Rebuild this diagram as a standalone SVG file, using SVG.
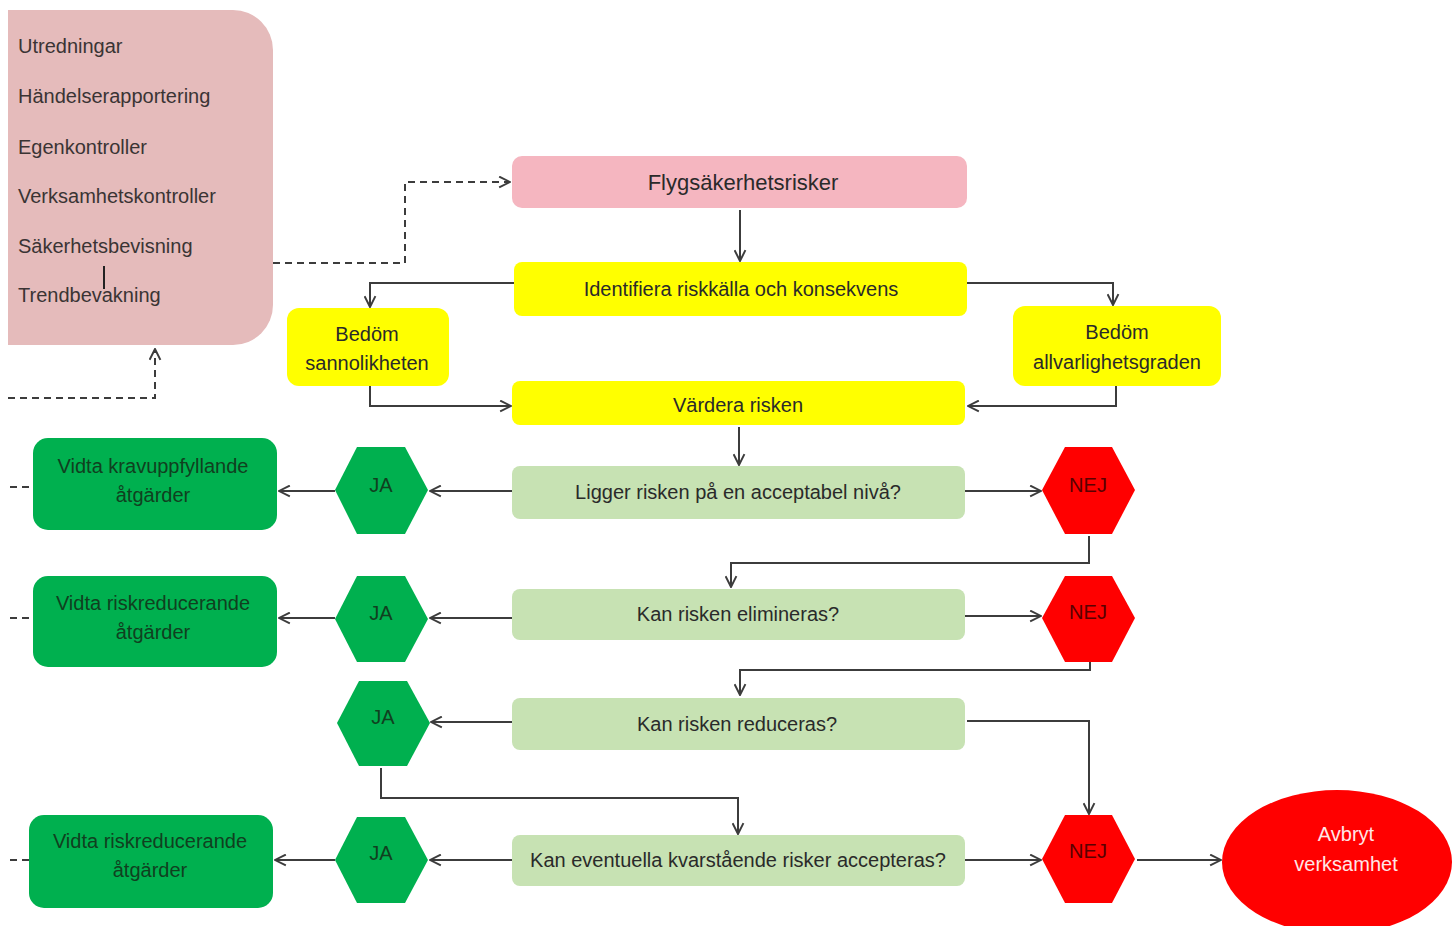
<svg xmlns="http://www.w3.org/2000/svg" width="1456" height="926" viewBox="0 0 1456 926">
<style>
text{font-family:"Liberation Sans",Arial,sans-serif;font-size:20px;fill:#2a2a2a;text-anchor:middle;dominant-baseline:central}
.src text{text-anchor:start;fill:#3a3434}
.c{fill:none;stroke:#3c3c3c;stroke-width:2}
.d{fill:none;stroke:#3c3c3c;stroke-width:2;stroke-dasharray:7,5}
.y{fill:#FFFF00}
.lg{fill:#C7E2B3}
.g{fill:#00B04F}
.r{fill:#FF0000}
.g text{fill:#10401f}
</style>
<defs>
<marker id="a" viewBox="0 0 12 12" refX="11" refY="6" markerWidth="13" markerHeight="13" markerUnits="userSpaceOnUse" orient="auto">
<path d="M1,1 L11,6 L1,11" fill="none" stroke="#3c3c3c" stroke-width="1.8"/>
</marker>
</defs>
<rect width="1456" height="926" fill="#ffffff"/>

<g id="sources" class="src">
<path d="M8,10 H233 A40,40 0 0 1 273,50 V305 A40,40 0 0 1 233,345 H8 Z" fill="#E5BBBB"/>
<text x="18" y="46">Utredningar</text>
<text x="18" y="96">Händelserapportering</text>
<text x="18" y="147">Egenkontroller</text>
<text x="18" y="196">Verksamhetskontroller</text>
<text x="18" y="246">Säkerhetsbevisning</text>
<text x="18" y="295">Trendbevakning</text>
<line x1="104" y1="266" x2="104" y2="289" stroke="#222" stroke-width="2"/>
</g>

<g id="connectors">
<path class="d" d="M273,263 H405 V182 H510" marker-end="url(#a)"/>
<path class="d" d="M8,398 H155 V349" marker-end="url(#a)"/>
<path class="d" d="M10,487 H33"/>
<path class="d" d="M10,618 H33"/>
<path class="d" d="M10,860 H29"/>
<path class="c" d="M740,210 V261" marker-end="url(#a)"/>
<path class="c" d="M514,283 H370 V307" marker-end="url(#a)"/>
<path class="c" d="M967,283 H1113 V305" marker-end="url(#a)"/>
<path class="c" d="M370,386 V406 H511" marker-end="url(#a)"/>
<path class="c" d="M1116,386 V406 H968" marker-end="url(#a)"/>
<path class="c" d="M739,427 V465" marker-end="url(#a)"/>
<path class="c" d="M512,491 H430" marker-end="url(#a)"/>
<path class="c" d="M335,491 H279" marker-end="url(#a)"/>
<path class="c" d="M965,491 H1041" marker-end="url(#a)"/>
<path class="c" d="M1089,536 V563 H731 V587" marker-end="url(#a)"/>
<path class="c" d="M512,618 H430" marker-end="url(#a)"/>
<path class="c" d="M335,618 H279" marker-end="url(#a)"/>
<path class="c" d="M965,616 H1041" marker-end="url(#a)"/>
<path class="c" d="M1090,662 V670 H740 V695" marker-end="url(#a)"/>
<path class="c" d="M512,722 H431" marker-end="url(#a)"/>
<path class="c" d="M381,768 V798 H738 V834" marker-end="url(#a)"/>
<path class="c" d="M967,721 H1089 V814" marker-end="url(#a)"/>
<path class="c" d="M512,860 H430" marker-end="url(#a)"/>
<path class="c" d="M335,860 H275" marker-end="url(#a)"/>
<path class="c" d="M965,860 H1041" marker-end="url(#a)"/>
<path class="c" d="M1137,860 H1221" marker-end="url(#a)"/>
</g>

<g id="flygsakerhetsrisker">
<rect x="512" y="156" width="455" height="52" rx="10" fill="#F5B6C0"/>
<text x="743" y="182" style="font-size:22px">Flygsäkerhetsrisker</text>
</g>
<g id="identifiera" class="y">
<rect x="514" y="262" width="453" height="54" rx="8"/>
<text x="741" y="289">Identifiera riskkälla och konsekvens</text>
</g>
<g id="sannolikhet">
<rect class="y" x="287" y="308" width="162" height="78" rx="12"/>
<text x="367" y="334">Bedöm</text>
<text x="367" y="363">sannolikheten</text>
</g>
<g id="allvarlighet">
<rect class="y" x="1013" y="306" width="208" height="80" rx="12"/>
<text x="1117" y="332">Bedöm</text>
<text x="1117" y="362">allvarlighetsgraden</text>
</g>
<g id="vardera">
<rect class="y" x="512" y="381" width="453" height="44" rx="8"/>
<text x="738" y="405">Värdera risken</text>
</g>

<g id="q1">
<rect class="lg" x="512" y="466" width="453" height="53" rx="8"/>
<text x="738" y="492">Ligger risken på en acceptabel nivå?</text>
</g>
<g id="q2">
<rect class="lg" x="512" y="589" width="453" height="51" rx="8"/>
<text x="738" y="614">Kan risken elimineras?</text>
</g>
<g id="q3">
<rect class="lg" x="512" y="698" width="453" height="52" rx="8"/>
<text x="737" y="724">Kan risken reduceras?</text>
</g>
<g id="q4">
<rect class="lg" x="512" y="835" width="453" height="51" rx="8"/>
<text x="738" y="860">Kan eventuella kvarstående risker accepteras?</text>
</g>

<g id="ja1" class="g">
<polygon points="335,490 357,447 405,447 428,490 405,534 357,534"/>
<text x="381" y="485">JA</text>
</g>
<g id="ja2" class="g">
<polygon points="335,619 357,576 405,576 428,619 405,662 357,662"/>
<text x="381" y="613">JA</text>
</g>
<g id="ja3" class="g">
<polygon points="337,723 359,681 407,681 430,723 407,766 359,766"/>
<text x="383" y="717">JA</text>
</g>
<g id="ja4" class="g">
<polygon points="335,860 357,817 405,817 428,860 405,903 357,903"/>
<text x="381" y="853">JA</text>
</g>

<g id="action1" class="g">
<rect x="33" y="438" width="244" height="92" rx="15"/>
<text x="153" y="466">Vidta kravuppfyllande</text>
<text x="153" y="495">åtgärder</text>
</g>
<g id="action2" class="g">
<rect x="33" y="576" width="244" height="91" rx="15"/>
<text x="153" y="603">Vidta riskreducerande</text>
<text x="153" y="632">åtgärder</text>
</g>
<g id="action3" class="g">
<rect x="29" y="815" width="244" height="93" rx="15"/>
<text x="150" y="841">Vidta riskreducerande</text>
<text x="150" y="870">åtgärder</text>
</g>

<g id="nej1">
<polygon class="r" points="1042,490 1065,447 1112,447 1135,490 1112,534 1065,534"/>
<text x="1088" y="485" style="fill:#5a0000">NEJ</text>
</g>
<g id="nej2">
<polygon class="r" points="1042,618 1065,576 1112,576 1135,618 1112,662 1065,662"/>
<text x="1088" y="612" style="fill:#5a0000">NEJ</text>
</g>
<g id="nej3">
<polygon class="r" points="1042,859 1065,815 1112,815 1135,859 1112,903 1065,903"/>
<text x="1088" y="851" style="fill:#5a0000">NEJ</text>
</g>

<g id="avbryt">
<ellipse class="r" cx="1337" cy="862" rx="115" ry="72"/>
<text x="1346" y="834" style="fill:#FFE6E6">Avbryt</text>
<text x="1346" y="864" style="fill:#FFE6E6">verksamhet</text>
</g>
</svg>
